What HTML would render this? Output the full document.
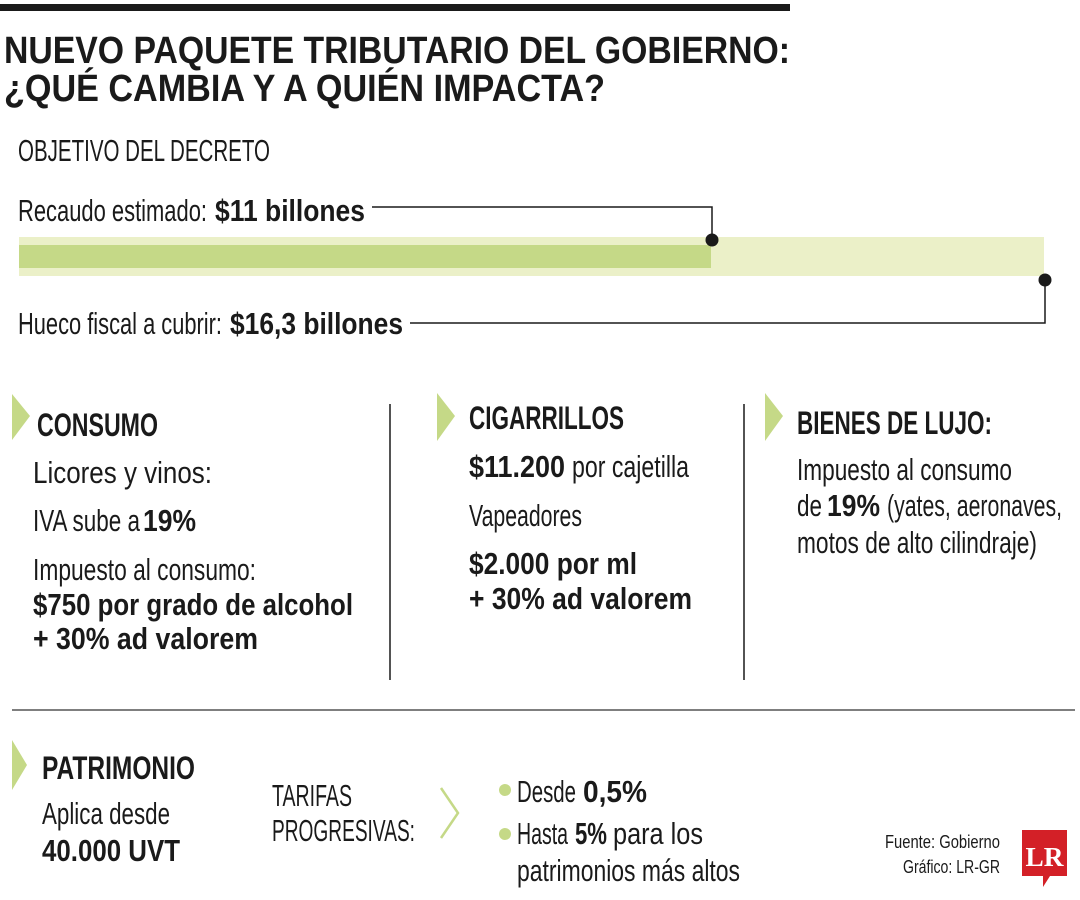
<!DOCTYPE html>
<html><head><meta charset="utf-8"><style>
html,body{margin:0;padding:0;background:#fff;width:1080px;height:900px;overflow:hidden}
svg{display:block}
text{font-family:"Liberation Sans Narrow","Liberation Sans",sans-serif;fill:#1a1a1a}
.r{font-size:31px}
.b{font-size:31px;font-weight:bold}
.h{font-size:32px;font-weight:bold}
</style></head><body>
<svg width="1080" height="900" viewBox="0 0 1080 900" xmlns="http://www.w3.org/2000/svg">
<rect x="0" y="4" width="790" height="7" fill="#1a1a1a"/>
<text x="4" y="63" style="font-size:38px;font-weight:bold;font-family:'Liberation Sans',sans-serif" textLength="786" lengthAdjust="spacingAndGlyphs">NUEVO PAQUETE TRIBUTARIO DEL GOBIERNO:</text>
<text x="4" y="101" style="font-size:38px;font-weight:bold;font-family:'Liberation Sans',sans-serif" textLength="601" lengthAdjust="spacingAndGlyphs">¿QUÉ CAMBIA Y A QUIÉN IMPACTA?</text>

<text class="r" x="18" y="161" textLength="252" lengthAdjust="spacingAndGlyphs">OBJETIVO DEL DECRETO</text>
<text class="r" x="18" y="221" textLength="189" lengthAdjust="spacingAndGlyphs">Recaudo estimado:</text>
<text class="b" x="215" y="221" textLength="150" lengthAdjust="spacingAndGlyphs">$11 billones</text>
<polyline points="372,207 712,207 712,240" fill="none" stroke="#1a1a1a" stroke-width="1.5"/>
<rect x="19" y="237" width="1025" height="39" fill="#ebf0c8"/>
<rect x="19" y="245" width="692" height="23" fill="#c5d987"/>
<circle cx="712" cy="240" r="6.5" fill="#1a1a1a"/>
<circle cx="1045" cy="280" r="6.5" fill="#1a1a1a"/>
<polyline points="1045,280 1045,323 410,323" fill="none" stroke="#1a1a1a" stroke-width="1.5"/>
<text class="r" x="18" y="334" textLength="204" lengthAdjust="spacingAndGlyphs">Hueco fiscal a cubrir:</text>
<text class="b" x="230" y="334" textLength="173" lengthAdjust="spacingAndGlyphs">$16,3 billones</text>

<polygon points="12,394 30,416 12,440" fill="#c5d987"/>
<text class="h" x="37" y="436" textLength="121" lengthAdjust="spacingAndGlyphs">CONSUMO</text>
<text class="r" x="33" y="483" textLength="179" lengthAdjust="spacingAndGlyphs">Licores y vinos:</text>
<text class="r" x="33" y="531" textLength="107" lengthAdjust="spacingAndGlyphs">IVA sube a</text>
<text class="b" x="143" y="531" textLength="53" lengthAdjust="spacingAndGlyphs">19%</text>
<text class="r" x="33" y="580" textLength="223" lengthAdjust="spacingAndGlyphs">Impuesto al consumo:</text>
<text class="b" x="33" y="615" textLength="320" lengthAdjust="spacingAndGlyphs">$750 por grado de alcohol</text>
<text class="b" x="33" y="649" textLength="225" lengthAdjust="spacingAndGlyphs">+ 30% ad valorem</text>

<line x1="390" y1="404" x2="390" y2="680" stroke="#1a1a1a" stroke-width="1.5"/>
<line x1="744" y1="404" x2="744" y2="680" stroke="#1a1a1a" stroke-width="1.5"/>

<polygon points="437,393 455,416 437,441" fill="#c5d987"/>
<text class="h" x="469" y="429" textLength="155" lengthAdjust="spacingAndGlyphs">CIGARRILLOS</text>
<text class="b" x="469" y="477" textLength="96" lengthAdjust="spacingAndGlyphs">$11.200</text>
<text class="r" x="572" y="477" textLength="117" lengthAdjust="spacingAndGlyphs">por cajetilla</text>
<text class="r" x="469" y="526" textLength="113" lengthAdjust="spacingAndGlyphs">Vapeadores</text>
<text class="b" x="469" y="574" textLength="168" lengthAdjust="spacingAndGlyphs">$2.000 por ml</text>
<text class="b" x="469" y="609" textLength="223" lengthAdjust="spacingAndGlyphs">+ 30% ad valorem</text>

<polygon points="765,393 783,416 765,441" fill="#c5d987"/>
<text class="h" x="797" y="434" textLength="195" lengthAdjust="spacingAndGlyphs">BIENES DE LUJO:</text>
<text class="r" x="797" y="480" textLength="215" lengthAdjust="spacingAndGlyphs">Impuesto al consumo</text>
<text class="r" x="797" y="516" textLength="25" lengthAdjust="spacingAndGlyphs">de</text>
<text class="b" x="827" y="516" textLength="53" lengthAdjust="spacingAndGlyphs">19%</text>
<text class="r" x="887" y="516" textLength="175" lengthAdjust="spacingAndGlyphs">(yates, aeronaves,</text>
<text class="r" x="797" y="553" textLength="240" lengthAdjust="spacingAndGlyphs">motos de alto cilindraje)</text>

<line x1="12" y1="710" x2="1075" y2="710" stroke="#555" stroke-width="1.5"/>

<polygon points="12,740 27,765 12,790" fill="#c5d987"/>
<text class="h" x="42" y="779" textLength="153" lengthAdjust="spacingAndGlyphs">PATRIMONIO</text>
<text class="r" x="42" y="824" textLength="128" lengthAdjust="spacingAndGlyphs">Aplica desde</text>
<text class="b" x="42" y="861" textLength="138" lengthAdjust="spacingAndGlyphs">40.000 UVT</text>
<text class="r" x="272" y="806" textLength="80" lengthAdjust="spacingAndGlyphs">TARIFAS</text>
<text class="r" x="272" y="841" textLength="143" lengthAdjust="spacingAndGlyphs">PROGRESIVAS:</text>
<polyline points="441,788 458,813 441,838" fill="none" stroke="#c5d987" stroke-width="2.5"/>
<circle cx="505" cy="790" r="6" fill="#c5d987"/>
<text class="r" x="517" y="802" textLength="59" lengthAdjust="spacingAndGlyphs">Desde</text>
<text class="b" x="583" y="802" textLength="64" lengthAdjust="spacingAndGlyphs">0,5%</text>
<circle cx="505" cy="834" r="6" fill="#c5d987"/>
<text class="r" x="517" y="844" textLength="51" lengthAdjust="spacingAndGlyphs">Hasta</text>
<text class="b" x="575" y="844" textLength="32" lengthAdjust="spacingAndGlyphs">5%</text>
<text class="r" x="613" y="844" textLength="90" lengthAdjust="spacingAndGlyphs">para los</text>
<text class="r" x="517" y="881" textLength="223" lengthAdjust="spacingAndGlyphs">patrimonios más altos</text>

<text x="885" y="848" style="font-size:18px" textLength="115" lengthAdjust="spacingAndGlyphs">Fuente: Gobierno</text>
<text x="903" y="873" style="font-size:18px" textLength="97" lengthAdjust="spacingAndGlyphs">Gráfico: LR-GR</text>
<polygon points="1022,830 1067,830 1067,876 1050,876 1043,887 1043,876 1022,876" fill="#d32027"/>
<text x="1044.5" y="866" text-anchor="middle" style="font-size:27px;font-weight:bold;font-family:'Liberation Serif',serif;fill:#fff" textLength="38" lengthAdjust="spacingAndGlyphs">LR</text>
</svg>
</body></html>
